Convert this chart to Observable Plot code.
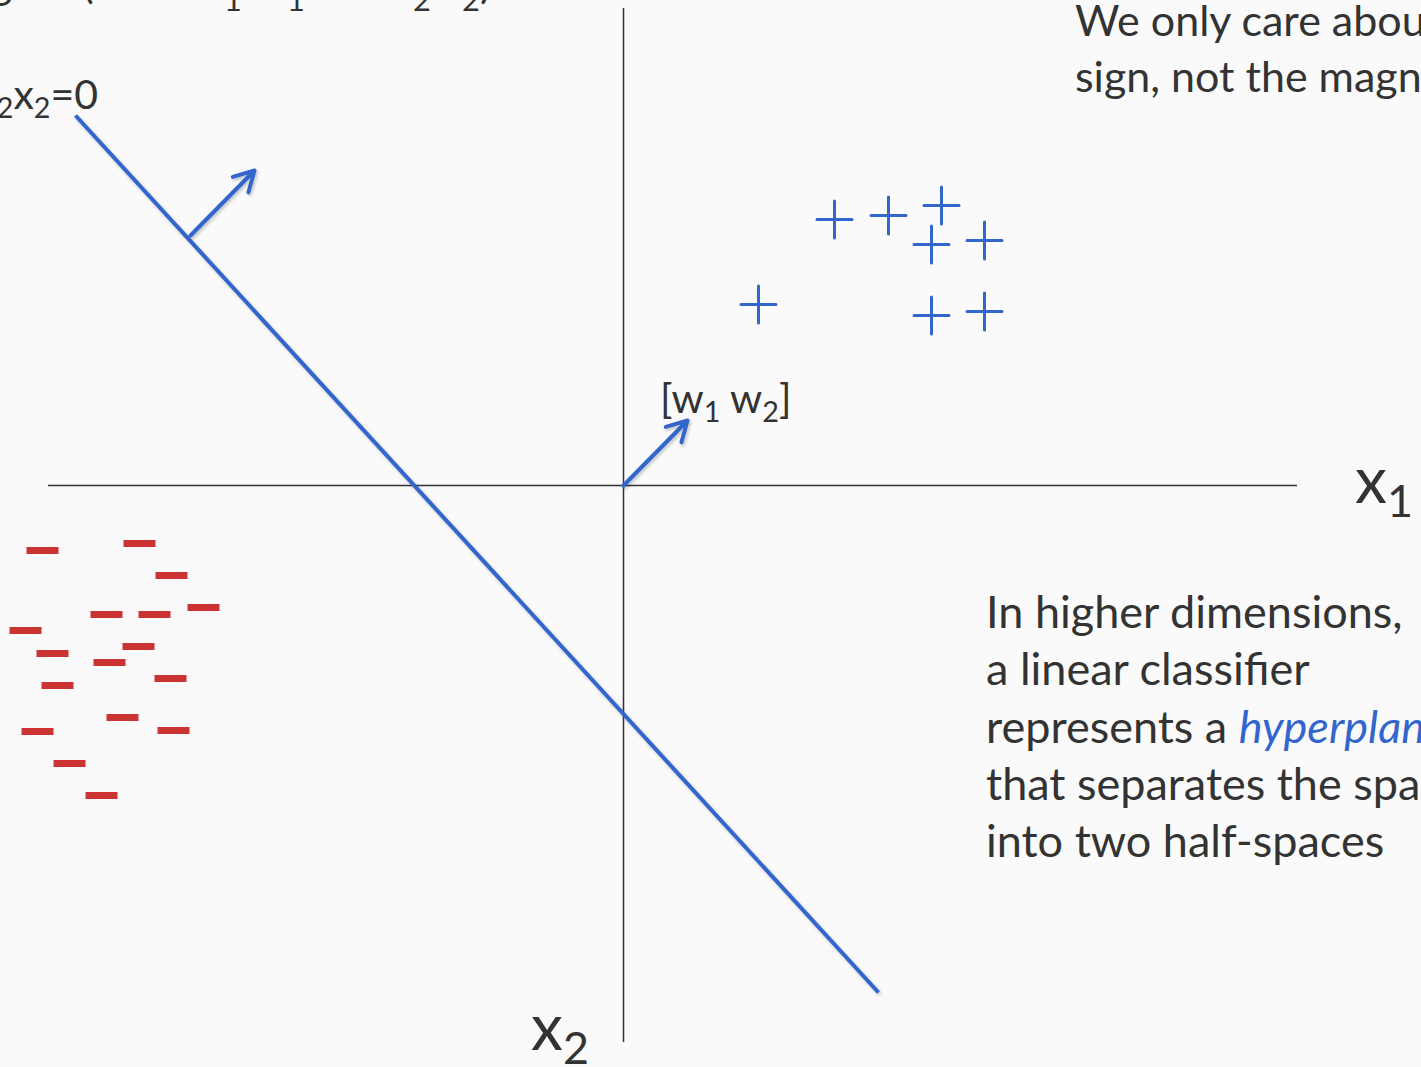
<!DOCTYPE html>
<html>
<head>
<meta charset="utf-8">
<script src="https://cdn.jsdelivr.net/npm/d3@7"></script>
<script src="https://cdn.jsdelivr.net/npm/@observablehq/plot@0.6"></script>
<style>
  html, body { margin: 0; padding: 0; width: 1421px; height: 1067px; overflow: hidden; background: #fafafa; }
  #chart svg { display: block; }
</style>
</head>
<body>
<div id="chart"></div>
<script>
// Feature space: x1 to the right, x2 upward, origin where the axes cross.
const posX1 = [2.11, 2.65, 3.18, 3.08, 3.61, 1.35, 3.08, 3.61];
const posX2 = [2.66, 2.70, 2.80, 2.41, 2.45, 1.81, 1.70, 1.74];

const negX1 = [-4.84, -5.81, -4.52, -4.20, -5.17, -4.69, -5.98, -4.85, -5.71,
               -5.14, -4.53, -5.66, -5.01, -5.86, -4.50, -5.54, -5.22];
const negX2 = [-0.58, -0.65, -0.90, -1.22, -1.29, -1.29, -1.45, -1.61, -1.68,
               -1.77, -1.93, -2.00, -2.32, -2.46, -2.45, -2.78, -3.10];

// Decision boundary w1*x1 + w2*x2 = 0, drawn between two points on it
const boundaryStart = [-5.48, 3.70];
const boundaryEnd = [2.55, -5.07];

// Weight vector [w1 w2] from the origin, and the same normal drawn off the boundary
const weight = [0.64, 0.65];
const normalBase = [-4.33, 2.50];

// Axis extents
const axisX1 = [-5.75, 6.74];
const axisX2 = [-5.57, 4.77];

const BLUE = "#3366cc";
const RED = "#cc3333";
const INK = "#333333";
const FONT = "Lato, 'Open Sans', sans-serif";

const positives = posX1.map((x, i) => ({x1: x, x2: posX2[i]}));
const negatives = negX1.map((x, i) => ({x1: x, x2: negX2[i]}));

// Thin "+" and flat "−" glyphs as custom symbols
const plusSymbol = {
  draw(ctx, size) {
    const r = Math.sqrt(size / Math.PI);
    ctx.moveTo(-r, 0); ctx.lineTo(r, 0);
    ctx.moveTo(0, -r * 1.06); ctx.lineTo(0, r * 1.06);
  }
};
const minusSymbol = {
  draw(ctx, size) {
    const r = Math.sqrt(size / Math.PI);
    ctx.moveTo(-r, 0); ctx.lineTo(r, 0);
  }
};

const plot = Plot.plot({
  width: 1421,
  height: 1067,
  margin: 0,
  x: {domain: [-6.23, 7.98], axis: null},
  y: {domain: [-5.82, 4.85], axis: null},
  style: {background: "transparent", overflow: "hidden"},
  marks: [
    Plot.ruleY([0], {x1: axisX1[0], x2: axisX1[1], stroke: INK, strokeWidth: 1.5}),
    Plot.ruleX([0], {y1: axisX2[0], y2: axisX2[1], stroke: INK, strokeWidth: 1.5}),
    Plot.link([0], {
      x1: () => boundaryStart[0], y1: () => boundaryStart[1],
      x2: () => boundaryEnd[0], y2: () => boundaryEnd[1],
      stroke: BLUE, strokeWidth: 4, strokeLinecap: "butt"
    }),
    Plot.arrow([normalBase], {
      x1: d => d[0], y1: d => d[1],
      x2: d => d[0] + weight[0], y2: d => d[1] + weight[1],
      stroke: BLUE, strokeWidth: 4, headLength: 8.5, headAngle: 58,
      strokeLinecap: "round", strokeLinejoin: "round"
    }),
    Plot.arrow([weight], {
      x1: 0, y1: 0, x2: d => d[0], y2: d => d[1],
      stroke: BLUE, strokeWidth: 4, headLength: 8.5, headAngle: 58,
      strokeLinecap: "round", strokeLinejoin: "round"
    }),
    Plot.dot(positives, {
      x: "x1", y: "x2", symbol: plusSymbol, r: 17.5,
      fill: "none", stroke: BLUE, strokeWidth: 3, strokeLinecap: "round"
    }),
    Plot.dot(negatives, {
      x: "x1", y: "x2", symbol: minusSymbol, r: 16,
      fill: "none", stroke: RED, strokeWidth: 7, strokeLinecap: "butt"
    })
  ]
});

document.getElementById("chart").append(plot);

const svg = d3.select(plot);
const sx = plot.scale("x"), sy = plot.scale("y");
const px = v => sx.apply(v), py = v => sy.apply(v);

// Soft shadow under the blue strokes
const defs = svg.append("defs");
defs.append("filter").attr("id", "soft-shadow")
  .attr("x", "-20%").attr("y", "-20%").attr("width", "140%").attr("height", "140%")
  .append("feDropShadow")
  .attr("dx", 1.5).attr("dy", 2).attr("stdDeviation", 1.6)
  .attr("flood-color", "#000").attr("flood-opacity", 0.22);
svg.selectAll("g[aria-label='link'], g[aria-label='arrow']").attr("filter", "url(#soft-shadow)");

// Text with subscripts. A run is a plain string or {t, sub, it, x};
// a run with x starts at that absolute position.
function drawText(x, y, size, runs, opts = {}) {
  const t = svg.append("text")
    .attr("x", x).attr("y", y)
    .attr("font-family", FONT)
    .attr("font-size", size)
    .attr("fill", opts.fill || INK)
    .attr("text-anchor", opts.anchor || "start");
  const subShift = opts.subShift ?? size * 0.22;
  let shifted = 0;
  for (const run of runs) {
    const r = typeof run === "string" ? {t: run} : run;
    const s = t.append("tspan").text(r.t);
    if (r.x !== undefined) s.attr("x", r.x);
    const want = r.sub ? subShift : 0;
    if (want !== shifted) { s.attr("dy", want - shifted); shifted = want; }
    if (r.sub) s.attr("font-size", size * 0.7);
    if (r.it) s.attr("font-style", "italic").attr("fill", BLUE);
  }
  return t;
}
const sub = t => ({t, sub: true});

// Slide heading (mostly above the visible area)
drawText(-40, -2, 44, [
  "sign", {t: "(b + w", x: 82}, {t: "1", sub: true, x: 224}, "x",
  {t: "1", sub: true, x: 287}, " + w", {t: "2", sub: true, x: 413}, "x",
  {t: "2", sub: true, x: 462}, ")"
], {subShift: 13});

// Boundary equation beside its upper end
drawText(px(boundaryStart[0]) + 23, py(boundaryStart[1]) - 6, 41,
  ["w", sub("1"), "x", sub("1"), "+w", sub("2"), "x", sub("2"), "=0"], {anchor: "end"});

// Weight vector label at the arrow tip
drawText(px(weight[0]) - 27, py(weight[1]) - 7, 41,
  ["[w", sub("1"), " w", sub("2"), "]"]);

// Axis names
drawText(px(axisX1[1]) + 58, py(0) + 18, 64, ["x", sub("1")]);
drawText(px(0) - 92, py(axisX2[0]) + 8, 64, ["x", sub("2")]);

// Side notes
const noteTop = [
  ["We only care about the"],
  ["sign, not the magnitude"]
];
noteTop.forEach((runs, i) => drawText(1075, 36 + i * 56, 43, runs));

const noteBottom = [
  ["In higher dimensions,"],
  ["a linear classifier"],
  ["represents a ", {t: "hyperplane", it: true}],
  ["that separates the space"],
  ["into two half-spaces"]
];
noteBottom.forEach((runs, i) => drawText(986, 628 + i * 57.3, 45, runs));
</script>
</body>
</html>
